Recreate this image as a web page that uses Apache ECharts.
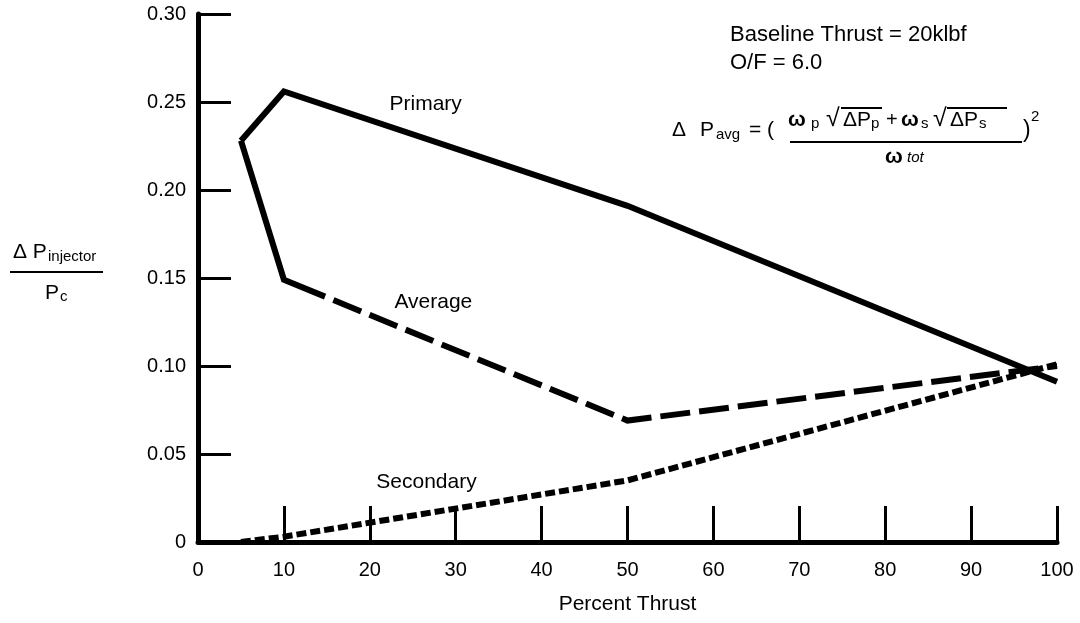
<!DOCTYPE html>
<html>
<head>
<meta charset="utf-8">
<script src="https://cdn.jsdelivr.net/npm/echarts@6/dist/echarts.min.js"></script>
<style>
  html, body { margin: 0; padding: 0; background: #fff; }
  #chart { width: 1080px; height: 623px; }
</style>
</head>
<body>
<div id="chart"></div>
<script>
// percent thrust at each corner of the curves
const thrust = [5, 10, 50, 100]
const primary = [0.228, 0.256, 0.191, 0.091]
const average = [0.228, 0.149, 0.069, 0.100]
const secondaryThrust = [5, 10, 50, 100]
const secondary = [0.0, 0.003, 0.035, 0.101]

const xTicks = [0, 10, 20, 30, 40, 50, 60, 70, 80, 90, 100]
const yTicks = [0, 0.05, 0.10, 0.15, 0.20, 0.25, 0.30]

// curve names placed near their lines (data coords)
const curveLabels = [
  { text: 'Primary', at: [26.5, 0.249] },
  { text: 'Average', at: [27.4, 0.136] },
  { text: 'Secondary', at: [26.6, 0.034] }
]

const FONT = '"Liberation Sans", Arial, Helvetica, sans-serif'

const pair = (xs, ys) => xs.map((x, i) => [x, ys[i]])

// average curve: solid start, then long dashes
const avgDash = [190, 9]
for (let i = 0; i < 40; i++) avgDash.push(30, 9)

const chart = echarts.init(document.getElementById('chart'))

const lineSeries = (name, data, type, width) => ({
  name,
  type: 'line',
  data,
  symbol: 'none',
  silent: true,
  lineStyle: { color: '#000', width, type, cap: 'butt', join: 'miter' }
})

const txt = (x, y, text, size, extra) => ({
  type: 'text',
  x, y,
  silent: true,
  style: Object.assign({
    text,
    fill: '#000',
    font: `${size}px ${FONT}`,
    textAlign: 'left',
    textVerticalAlign: 'middle'
  }, extra || {})
})

const bar = (x1, y1, x2, y2, w) => ({
  type: 'line',
  silent: true,
  shape: { x1, y1, x2, y2 },
  style: { stroke: '#000', lineWidth: w || 2 }
})

chart.setOption({
  backgroundColor: '#fff',
  animation: false,
  textStyle: { fontFamily: FONT },
  grid: { left: 198, right: 23, top: 14, bottom: 81, containLabel: false },
  xAxis: {
    type: 'value',
    min: xTicks[0],
    max: xTicks[xTicks.length - 1],
    interval: 10,
    name: 'Percent Thrust',
    nameLocation: 'middle',
    nameGap: 52,
    nameTextStyle: { color: '#000', fontSize: 21, fontFamily: FONT },
    axisLine: { lineStyle: { color: '#000', width: 5 } },
    axisTick: { inside: true, length: 36, lineStyle: { color: '#000', width: 3 } },
    axisLabel: { color: '#000', fontSize: 20, margin: 18, fontFamily: FONT },
    splitLine: { show: false }
  },
  yAxis: {
    type: 'value',
    min: yTicks[0],
    max: yTicks[yTicks.length - 1],
    interval: 0.05,
    axisLine: { show: true, lineStyle: { color: '#000', width: 5 } },
    axisTick: { show: true, inside: true, length: 33, lineStyle: { color: '#000', width: 3 } },
    axisLabel: {
      color: '#000', fontSize: 20, margin: 12, fontFamily: FONT,
      formatter: v => (v === 0 ? '0' : v.toFixed(2))
    },
    splitLine: { show: false }
  },
  series: [
    lineSeries('Primary', pair(thrust, primary), 'solid', 6),
    lineSeries('Average', pair(thrust, average), avgDash, 6),
    lineSeries('Secondary', pair(secondaryThrust, secondary), [10, 4], 6)
  ]
})

// annotations: y-axis fraction, notes and formula
const bold = size => ({ font: `bold ${size}px ${FONT}` })
const graphics = [
  // y axis name  ΔP_injector / P_c
  txt(13, 252, 'Δ P', 21),
  txt(48, 257, 'injector', 15),
  bar(10, 272, 103, 272, 2),
  txt(45, 293, 'P', 21),
  txt(60, 297, 'c', 15),

  txt(730, 35, 'Baseline Thrust = 20klbf', 22),
  txt(730, 63, 'O/F = 6.0', 22),

  // ΔPavg formula
  txt(672, 130, 'Δ', 21),
  txt(700, 130, 'P', 21),
  txt(716, 135, 'avg', 15),
  txt(749, 130, '= (', 21),
  txt(788, 120, 'ω', 21, bold(21)),
  txt(811, 124, 'p', 15),
  txt(826, 119, '√', 25),
  txt(843, 120, 'ΔP', 21),
  txt(871, 124, 'p', 15),
  bar(841, 108, 882, 108, 2),
  txt(886, 120, '+', 20),
  txt(901, 120, 'ω', 21, bold(21)),
  txt(921, 124, 's', 15),
  txt(933, 119, '√', 25),
  txt(950, 120, 'ΔP', 21),
  txt(979, 124, 's', 15),
  bar(947, 108, 1007, 108, 2),
  bar(790, 142, 1022, 142, 2),
  txt(885, 157, 'ω', 21, bold(21)),
  txt(907, 158, 'tot', 15, { font: `italic 15px ${FONT}` }),
  txt(1023, 131, ')', 23),
  txt(1031, 117, '2', 15)
]

curveLabels.forEach(l => {
  const p = chart.convertToPixel({ gridIndex: 0 }, l.at)
  graphics.push(txt(p[0], p[1], l.text, 21, { textAlign: 'center' }))
})

chart.setOption({ graphic: graphics })

window.addEventListener('resize', () => chart.resize())
</script>
</body>
</html>
